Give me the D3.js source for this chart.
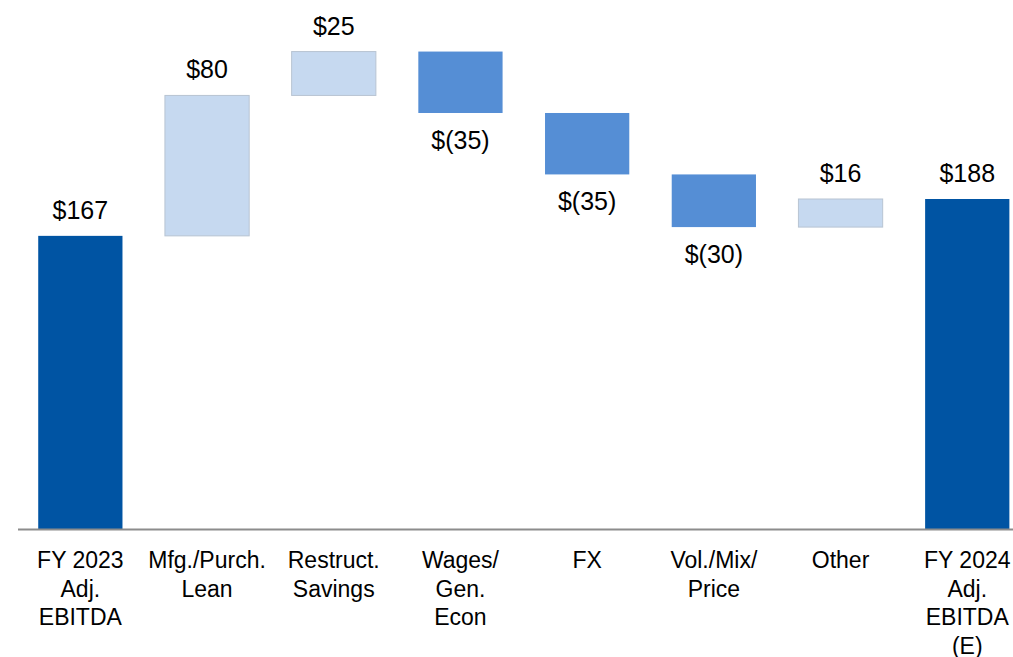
<!DOCTYPE html>
<meta charset="utf-8">
<script src="https://d3js.org/d3.v7.min.js"></script>
<style>
  body { margin: 0; background: #fff; }
  text { font-family: "Liberation Sans", Arial, sans-serif; fill: #000; }
</style>
<div id="chart"></div>
<script>
  // waterfall data
  var categories = [
    ["FY 2023", "Adj.", "EBITDA"],
    ["Mfg./Purch.", "Lean"],
    ["Restruct.", "Savings"],
    ["Wages/", "Gen.", "Econ"],
    ["FX"],
    ["Vol./Mix/", "Price"],
    ["Other"],
    ["FY 2024", "Adj.", "EBITDA", "(E)"]
  ]
  var values = [167, 80, 25, -35, -35, -30, 16, 188]
  var kinds = ["total", "step", "step", "step", "step", "step", "step", "total"]
  var valueLabels = ["$167", "$80", "$25", "$(35)", "$(35)", "$(30)", "$16", "$188"]

  var width = 1013
  var height = 657

  var svg = d3.select("#chart")
    .append("svg")
    .attr("width", width)
    .attr("height", height)

  // build running totals
  var running = 0
  var data = values.map(function (v, i) {
    var d = { i: i, value: v, kind: kinds[i], label: valueLabels[i], cat: categories[i] }
    if (d.kind === "total") {
      d.start = 0; d.end = v; running = v
    } else {
      d.start = running; d.end = running + v; running = d.end
    }
    return d
  })

  var x = d3.scaleBand()
    .domain(d3.range(values.length))
    .range([17, 1030.6])
    .paddingInner(0.335)
    .paddingOuter(0.1675)

  var y = d3.scaleLinear()
    .domain([0, 188])
    .range([529, 199])

  var fill = function (d) {
    if (d.kind === "total") return "#0054a3"
    return d.value >= 0 ? "#c6d9f0" : "#558ed5"
  }

  svg.append("g")
    .selectAll("rect")
    .data(data)
    .enter()
    .append("rect")
    .attr("x", function (d) { return x(d.i) })
    .attr("width", x.bandwidth())
    .attr("y", function (d) { return y(Math.max(d.start, d.end)) })
    .attr("height", function (d) { return Math.abs(y(d.start) - y(d.end)) })
    .attr("fill", fill)
    .attr("stroke", function (d) { return d.kind === "step" && d.value > 0 ? "#b8c4d2" : "none" })
    .attr("stroke-width", 1)

  // baseline
  svg.append("line")
    .attr("x1", 18)
    .attr("x2", width)
    .attr("y1", y(0) + 0.5)
    .attr("y2", y(0) + 0.5)
    .attr("stroke", "#8c8c8c")
    .attr("stroke-width", 2)

  // value labels
  svg.append("g")
    .selectAll("text")
    .data(data)
    .enter()
    .append("text")
    .attr("x", function (d) { return x(d.i) + x.bandwidth() / 2 })
    .attr("y", function (d) {
      if (d.value >= 0) return y(Math.max(d.start, d.end)) - 17
      return y(Math.min(d.start, d.end)) + 36
    })
    .attr("text-anchor", "middle")
    .attr("font-size", 25)
    .text(function (d) { return d.label })

  // category labels
  var cat = svg.append("g")
    .selectAll("text")
    .data(data)
    .enter()
    .append("text")
    .attr("text-anchor", "middle")
    .attr("font-size", 23)
    .attr("x", function (d) { return x(d.i) + x.bandwidth() / 2 })
    .attr("y", 568)

  cat.selectAll("tspan")
    .data(function (d) { return d.cat.map(function (t) { return { t: t, x: x(d.i) + x.bandwidth() / 2 } }) })
    .enter()
    .append("tspan")
    .attr("x", function (t) { return t.x })
    .attr("dy", function (t, j) { return j === 0 ? 0 : 28.5 })
    .text(function (t) { return t.t })
</script>
